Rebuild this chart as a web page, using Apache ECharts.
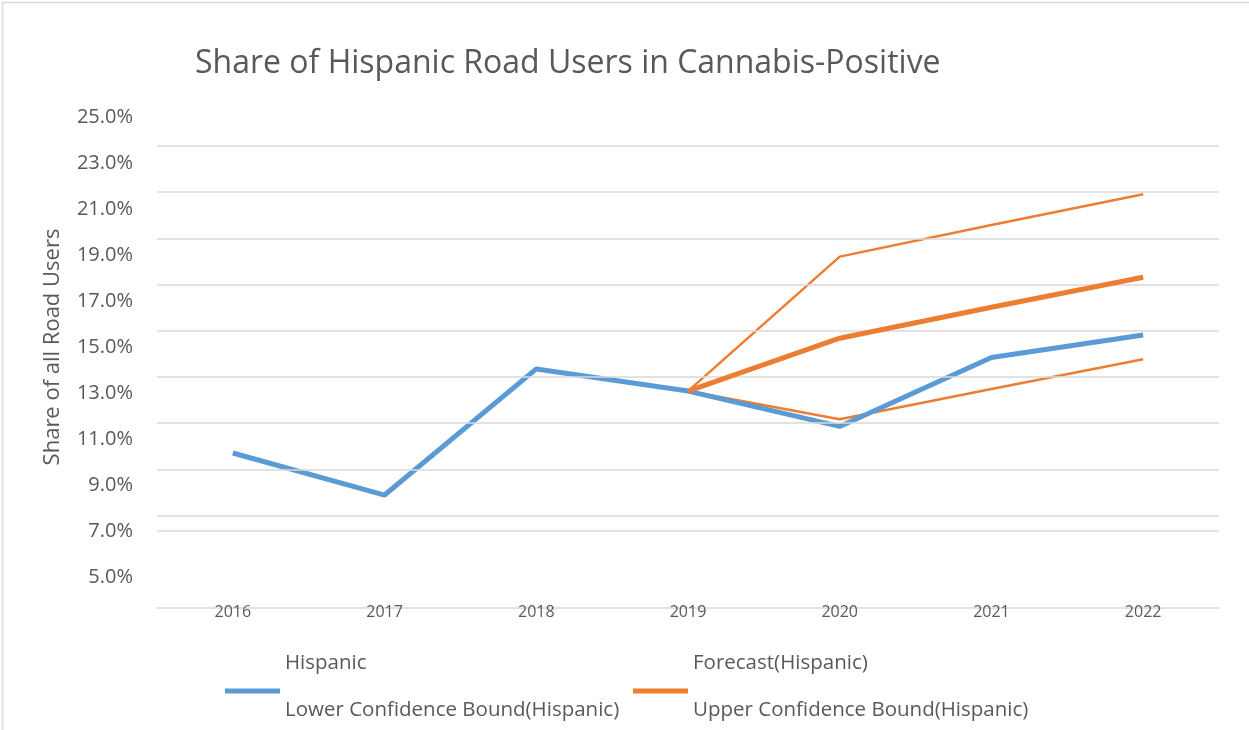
<!DOCTYPE html>
<html><head><meta charset="utf-8">
<script src="https://cdn.jsdelivr.net/npm/echarts@6/dist/echarts.min.js"></script>
<style>html,body{margin:0;padding:0;background:#fff}#c{width:1249px;height:730px}</style>
</head><body><div id="c"></div>
<script>
const years = ['2016','2017','2018','2019','2020','2021','2022'];
const hispanic = [11.71, 9.89, 15.35, 14.39, 12.86, 15.84, 16.82];
const forecast = [null, null, null, 14.39, 16.68, 18.02, 19.32];
const lowerBound = [null, null, null, 14.39, 13.17, 14.48, 15.77];
const upperBound = [null, null, null, 14.39, 20.21, 21.58, 22.91];
const gridValues = [25, 23, 21, 19, 17, 15, 13, 11, 9, 8.33];
const titleText = 'Share of Hispanic Road Users in Cannabis-Positive';
const yName = 'Share of all Road Users';

const FONT = 'Open Sans';
const GRAY = '#595959';
const BLUE = '#5B9BD5';
const ORANGE = '#ED7D31';

const chart = echarts.init(document.getElementById('c'), null, {renderer: 'canvas'});
const upperText = {color: GRAY, fontFamily: FONT, fontSize: 20.5, lineHeight: 56};
const lowerText = {color: GRAY, fontFamily: FONT, fontSize: 20.5, lineHeight: 24};
const upFmt = name => name + '\n ';
chart.setOption({
  backgroundColor: '#fff',
  animation: false,
  title: {text: titleText, left: 195, top: 48, padding: 0,
    textStyle: {fontFamily: FONT, fontSize: 32, fontWeight: 'normal', color: GRAY}},
  grid: [
    {left: 157, right: 30, top: 146, bottom: 122, containLabel: false},
    {left: 157, right: 30, top: 117, bottom: 153, containLabel: false}
  ],
  graphic: [
    {type: 'rect', left: 0, top: 0, shape: {width: 1248, height: 729},
     style: {fill: 'none', stroke: '#d9d9d9', lineWidth: 1.5}, silent: true},
    {type: 'text', x: 53, y: 347, rotation: Math.PI / 2, silent: true,
     style: {text: yName, fill: GRAY, font: '22px "Open Sans"', align: 'center', verticalAlign: 'middle'}}
  ],
  legend: [
    {left: 225, top: 635, padding: 0, itemWidth: 55, itemHeight: 5, itemGap: 5, selectedMode: false,
     data: [{name: 'Hispanic', icon: 'rect', itemStyle: {color: BLUE}}],
     formatter: upFmt, textStyle: upperText},
    {left: 633, top: 635, padding: 0, itemWidth: 55, itemHeight: 5, itemGap: 5, selectedMode: false,
     data: [{name: 'Forecast(Hispanic)', icon: 'rect', itemStyle: {color: ORANGE}}],
     formatter: upFmt, textStyle: upperText},
    {left: 225, top: 698, padding: 0, itemWidth: 55, itemHeight: 5, itemGap: 5, selectedMode: false,
     data: [{name: 'Lower Confidence Bound(Hispanic)', icon: 'rect', itemStyle: {color: 'rgba(0,0,0,0)'}}],
     textStyle: lowerText},
    {left: 633, top: 698, padding: 0, itemWidth: 55, itemHeight: 5, itemGap: 5, selectedMode: false,
     data: [{name: 'Upper Confidence Bound(Hispanic)', icon: 'rect', itemStyle: {color: 'rgba(0,0,0,0)'}}],
     textStyle: lowerText}
  ],
  xAxis: [
    {type: 'category', data: years, boundaryGap: true, gridIndex: 0,
     axisLine: {lineStyle: {color: '#d9d9d9', width: 1.5}},
     axisTick: {show: false},
     axisLabel: {color: GRAY, fontFamily: FONT, fontSize: 16, verticalAlign: 'middle', margin: 4}},
    {type: 'category', data: years, gridIndex: 1, show: false}
  ],
  yAxis: [
    {type: 'value', min: 5, max: 25, interval: 2, gridIndex: 0,
     axisLine: {show: false}, axisTick: {show: false}, splitLine: {show: false},
     axisLabel: {show: false}},
    {type: 'value', min: 5, max: 25, interval: 2, gridIndex: 1,
     axisLine: {show: false}, axisTick: {show: false}, splitLine: {show: false},
     axisLabel: {color: GRAY, fontFamily: FONT, fontSize: 20, margin: 24,
       formatter: v => v.toFixed(1) + '%'}}
  ],
  series: [
    {name: 'grid', type: 'line', data: years.map(() => null), z: 1, silent: true,
     markLine: {silent: true, symbol: 'none', label: {show: false},
       lineStyle: {color: '#d9d9d9', width: 1.5, type: 'solid'},
       data: gridValues.map(v => ({yAxis: v}))}},
    {name: 'Lower Confidence Bound(Hispanic)', type: 'line', data: lowerBound, z: 3,
     symbol: 'none', lineStyle: {color: ORANGE, width: 2.5}, itemStyle: {color: ORANGE}},
    {name: 'Upper Confidence Bound(Hispanic)', type: 'line', data: upperBound, z: 3,
     symbol: 'none', lineStyle: {color: ORANGE, width: 2.5}, itemStyle: {color: ORANGE}},
    {name: 'Hispanic', type: 'line', data: hispanic, z: 4,
     symbol: 'none', lineStyle: {color: BLUE, width: 5}, itemStyle: {color: BLUE}},
    {name: 'Forecast(Hispanic)', type: 'line', data: forecast, z: 5,
     symbol: 'none', lineStyle: {color: ORANGE, width: 5}, itemStyle: {color: ORANGE}}
  ]
});
</script></body></html>
